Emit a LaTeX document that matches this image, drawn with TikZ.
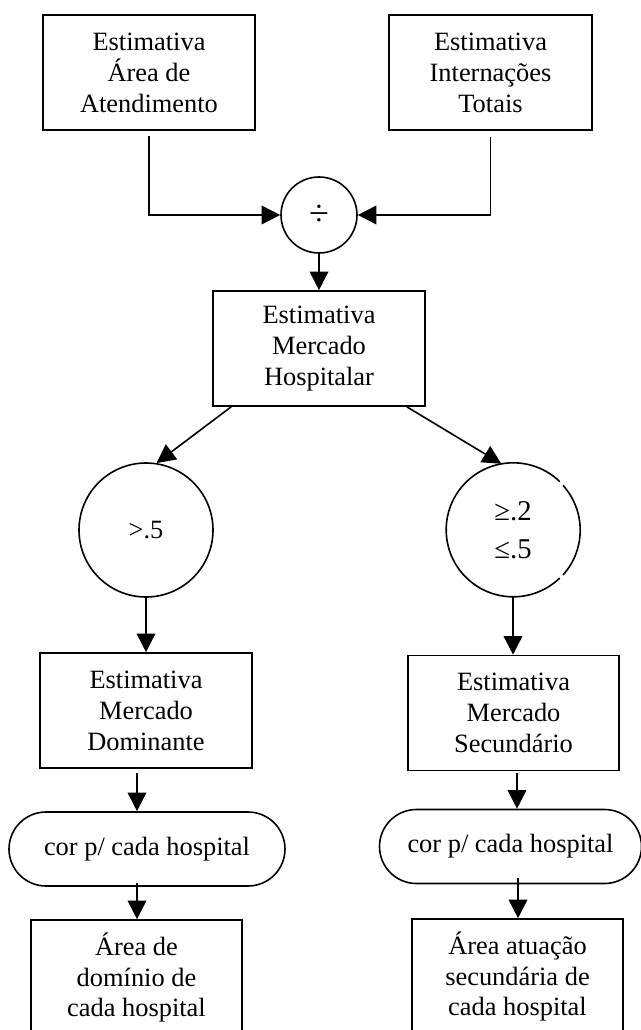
\documentclass[tikz,border=0pt]{standalone}
\usepackage{fontspec}
\setmainfont{Liberation Serif}
\usetikzlibrary{arrows.meta,shapes.misc}
\begin{document}
\begin{tikzpicture}[x=0.75pt,y=-0.75pt,
  every node/.style={font=\fontsize{19.8pt}{23.2pt}\selectfont, align=center, inner sep=0pt},
  box/.style={draw, line width=1.2pt, minimum width=#1, minimum height=86.25pt},
  ring/.style={circle, draw, line width=1.2pt, minimum size=#1},
  pill/.style={rounded rectangle, draw, line width=1.2pt, minimum width=#1, minimum height=55.5pt},
  conn/.style={line width=1.2pt, -{Triangle[length=14pt,width=14pt]}}]
\useasboundingbox (0,0) rectangle (641,1030);

% inputs
\node[box=159pt] (tl) at (149,72.5) {Estimativa\\Área de\\Atendimento};
\node[box=152.25pt] (tr) at (490.5,72.5) {Estimativa\\Internações\\Totais};
\node[ring=57pt, font=\fontsize{27pt}{27pt}\selectfont] (div) at (319,215) {÷};

% market share
\node[box=159pt] (mkt) at (319,348.5) {Estimativa\\Mercado\\Hospitalar};

% thresholds
\node[ring=100.5pt] (lc) at (146,530) {>.5};
\node[circle, minimum size=100.5pt, font=\fontsize{21.5pt}{28.5pt}\selectfont] (rc) at (513,530)
  {≥.2\\≤.5};
\draw[line width=1.2pt] (rc.46) arc[start angle=46, end angle=314, radius=50.25pt];
\draw[line width=1.2pt] (rc.-42) arc[start angle=-42, end angle=42, radius=50.25pt];

% market classes
\node[box=159pt] (dom) at (146,710.5) {Estimativa\\Mercado\\Dominante};
\node[box=158.25pt] (sec) at (513.5,713) {Estimativa\\Mercado\\Secundário};

% colouring step
\node[pill=207pt] (lp) at (147,849) {cor p/ cada hospital};
\node[pill=196.5pt] (rp) at (510.5,846.5) {cor p/ cada hospital};

% results
\node[box=158.25pt] (bl) at (136.5,977.5) {Área de\\domínio de\\cada hospital};
\node[box=158.25pt] (br) at (517.5,976.5) {Área atuação\\secundária de\\cada hospital};

% connectors
\draw[conn] ([yshift=-4pt]tl.south) |- (div.west);
\draw[conn] ([yshift=-5pt]tr.south) |- (div.east);
\draw[conn] (div.south) -- (mkt.north);
\draw[conn] ([xshift=14.25pt]mkt.south west) -- (lc.81);
\draw[conn] ([xshift=-14.25pt]mkt.south east) -- (rc.100);
\draw[conn] (lc.south) -- (dom.north);
\draw[conn] (rc.south) -- (rc.south |- sec.north);
\draw[conn] ([xshift=-6.75pt,yshift=-3pt]dom.south) -- ([xshift=-7.5pt]lp.north);
\draw[conn] ([xshift=-7.5pt,yshift=3pt]lp.south) -- ([xshift=0.375pt]bl.north);
\draw[conn] ([xshift=2.625pt,yshift=-1.5pt]sec.south) -- ([xshift=4.875pt]rp.north);
\draw[conn] ([xshift=5.625pt,yshift=4.5pt]rp.south) -- ([xshift=0.375pt]br.north);
\end{tikzpicture}
\end{document}
